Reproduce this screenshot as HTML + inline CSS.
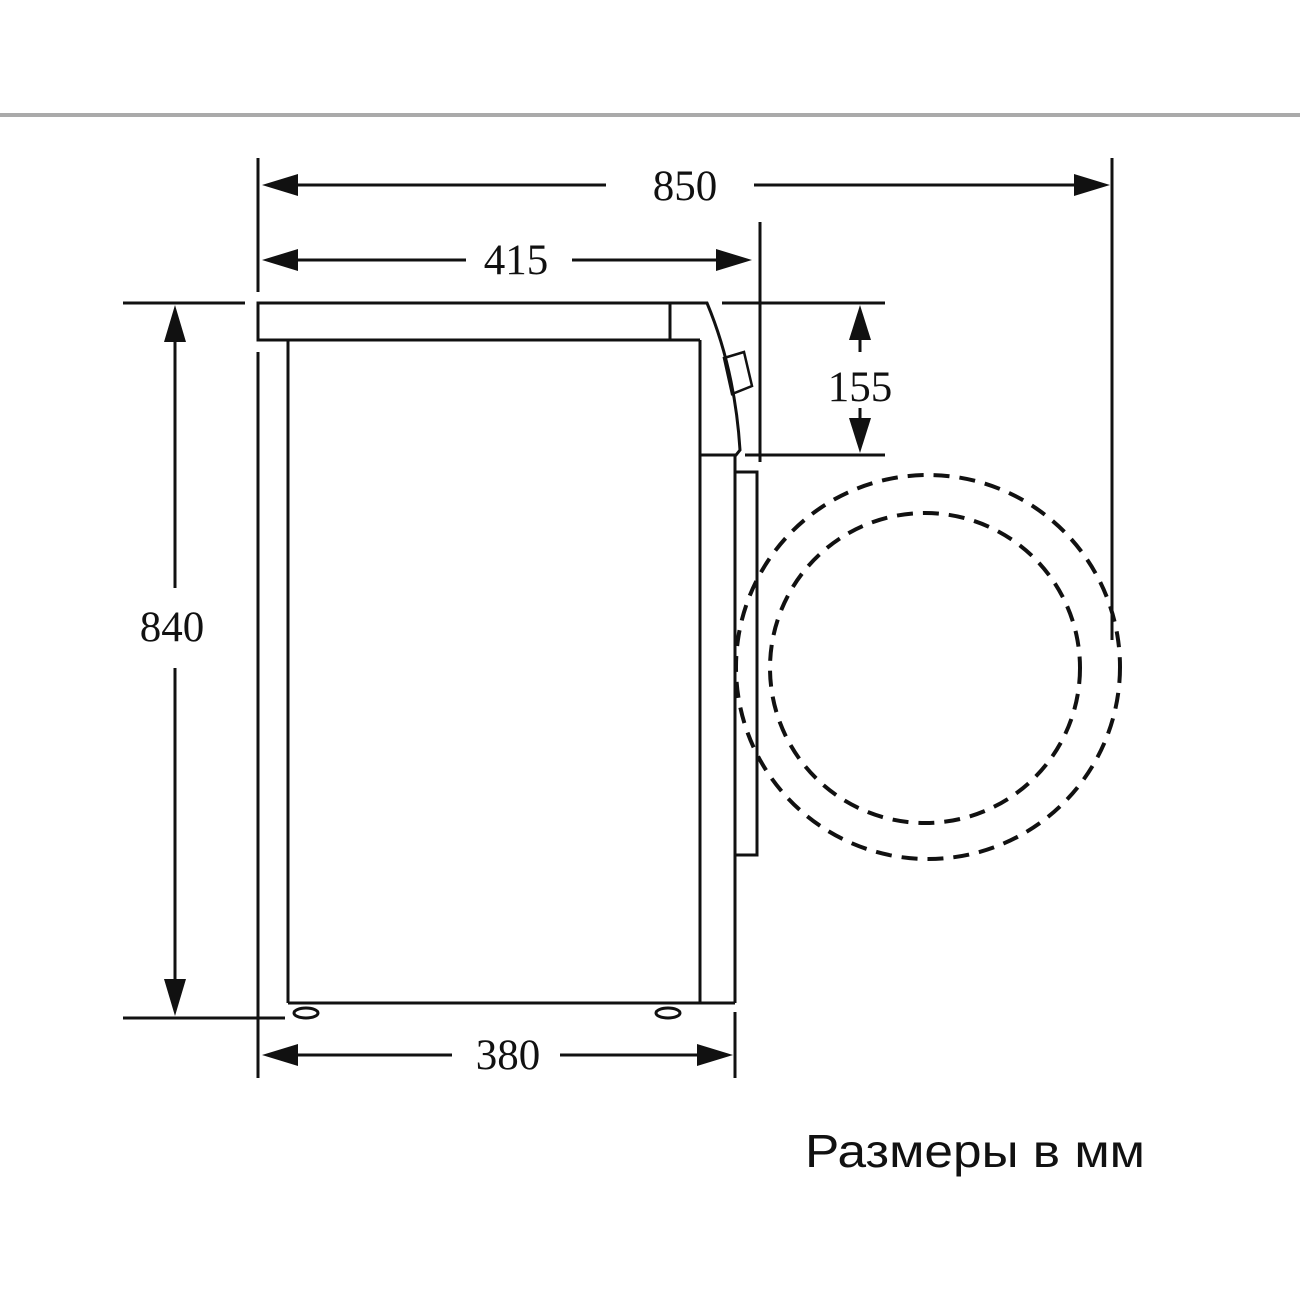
<!DOCTYPE html>
<html><head><meta charset="utf-8"><style>
html,body{margin:0;padding:0;background:#fff;}
svg{display:block;}
</style></head><body>
<svg width="1300" height="1300" viewBox="0 0 1300 1300" xmlns="http://www.w3.org/2000/svg">
<rect width="1300" height="1300" fill="#fff"/>
<line x1="0" y1="115" x2="1300" y2="115" stroke="#aaa" stroke-width="4"/>
<g stroke="#111" stroke-width="3" fill="none">
  <line x1="258" y1="158" x2="258" y2="292"/>
  <line x1="258" y1="352" x2="258" y2="1078"/>
  <line x1="1112" y1="158" x2="1112" y2="640"/>
  <line x1="760" y1="222" x2="760" y2="462"/>
  <line x1="735" y1="1012" x2="735" y2="1078"/>
  <line x1="290" y1="185" x2="606" y2="185"/>
  <line x1="754" y1="185" x2="1082" y2="185"/>
  <line x1="290" y1="260" x2="466" y2="260"/>
  <line x1="572" y1="260" x2="725" y2="260"/>
  <line x1="290" y1="1055" x2="452" y2="1055"/>
  <line x1="560" y1="1055" x2="706" y2="1055"/>
  <line x1="123" y1="303" x2="245" y2="303"/>
  <line x1="123" y1="1018" x2="285" y2="1018"/>
  <line x1="175" y1="330" x2="175" y2="588"/>
  <line x1="175" y1="668" x2="175" y2="990"/>
  <line x1="722" y1="303" x2="885" y2="303"/>
  <line x1="745" y1="455" x2="885" y2="455"/>
  <line x1="860" y1="330" x2="860" y2="352"/>
  <line x1="860" y1="408" x2="860" y2="428"/>
  <rect x="258" y="303" width="412" height="37"/>
  <line x1="288" y1="340" x2="288" y2="1003"/>
  <line x1="288" y1="340" x2="700" y2="340"/>
  <line x1="700" y1="340" x2="700" y2="1003"/>
  <path d="M670 303 L707 303 Q735 370 740 450 L736 455 L700 455"/>
  <line x1="735" y1="455" x2="735" y2="1003"/>
  <path d="M288 1003 L735 1003"/>
  <rect x="735" y="472" width="22" height="383"/>
  <path d="M724 358 L744 352 L752 386 L732 394 Z" stroke-width="2.5"/>
  <ellipse cx="306" cy="1013" rx="12" ry="5"/>
  <ellipse cx="668" cy="1013" rx="12" ry="5"/>
</g>
<g fill="#111">
  <polygon points="262,185 298,174 298,196"/>
  <polygon points="1110,185 1074,174 1074,196"/>
  <polygon points="262,260 298,249 298,271"/>
  <polygon points="752,260 716,249 716,271"/>
  <polygon points="262,1055 298,1044 298,1066"/>
  <polygon points="733,1055 697,1044 697,1066"/>
  <polygon points="175,305 164,342 186,342"/>
  <polygon points="175,1016 164,979 186,979"/>
  <polygon points="860,305 849,340 871,340"/>
  <polygon points="860,453 849,418 871,418"/>
</g>
<g stroke="#111" stroke-width="4" fill="none" stroke-dasharray="16 10">
  <circle cx="928" cy="667" r="192"/>
  <circle cx="925" cy="668" r="155"/>
</g>
<g font-family="'Liberation Serif', serif" font-size="43" fill="#111" text-anchor="middle">
  <text x="685" y="200">850</text>
  <text x="516" y="274">415</text>
  <text x="508" y="1069">380</text>
  <text x="172" y="641">840</text>
  <text x="860" y="401">155</text>
</g>
<text x="805" y="1167" font-family="'Liberation Sans', 'DejaVu Sans', sans-serif" font-size="46" fill="#111" textLength="340" lengthAdjust="spacingAndGlyphs">Размеры в мм</text>
</svg>
</body></html>
